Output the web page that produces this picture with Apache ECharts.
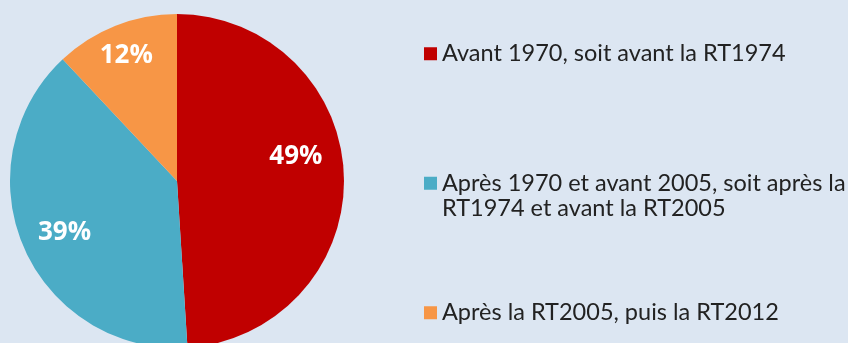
<!DOCTYPE html>
<html>
<head>
<meta charset="utf-8">
<script src="https://cdn.jsdelivr.net/npm/echarts@6/dist/echarts.min.js"></script>
<style>
  html, body { margin: 0; padding: 0; background: #dce6f2; }
  #chart { width: 848px; height: 343px; }
</style>
</head>
<body>
<div id="chart"></div>
<script>
// Construction periods of the housing stock (share of dwellings, %)
const categories = [
  'Avant 1970, soit avant la RT1974',
  'Après 1970 et avant 2005, soit après la\nRT1974 et avant la RT2005',
  'Après la RT2005, puis la RT2012'
];
const shares = [49, 39, 12];

// Presentation
const colors = ['#c00000', '#4bacc6', '#f79646'];
const pieCenter = [177, 181];
const pieRadius = 167;
const labelRadiusRatio = 0.76;        // value labels sit at ~3/4 of the radius
const labelNudge = [[-8, -20], [4, 1], [-4, -7]];

// mid angle of every slice, clockwise from 12 o'clock
const total = shares.reduce((a, b) => a + b, 0);
const midAngles = [];
let acc = 0;
shares.forEach(v => {
  midAngles.push((acc + v / 2) / total * 2 * Math.PI);
  acc += v;
});

const pieData = categories.map((name, i) => ({
  name: name,
  value: shares[i],
  itemStyle: { color: colors[i] }
}));

// white percentage labels inside the slices
const valueLabels = shares.map((v, i) => {
  const r = pieRadius * labelRadiusRatio;
  return {
    type: 'text',
    x: pieCenter[0] + Math.sin(midAngles[i]) * r + labelNudge[i][0],
    y: pieCenter[1] - Math.cos(midAngles[i]) * r + labelNudge[i][1],
    silent: true,
    z: 10,
    style: {
      text: v + '%',
      fill: '#ffffff',
      font: 'bold 26px "Open Sans"',
      align: 'center',
      verticalAlign: 'middle'
    }
  };
});

const chart = echarts.init(document.getElementById('chart'), null, { renderer: 'canvas' });
chart.setOption({
  backgroundColor: '#dce6f2',
  animation: false,
  legend: {
    orient: 'vertical',
    left: 424,
    top: 41,
    padding: 0,
    itemWidth: 13,
    itemHeight: 13,
    itemGap: 78.5,
    icon: 'rect',
    selectedMode: false,
    data: categories,
    // multi-line entries keep their square next to the first line
    formatter: name => name.indexOf('\n') >= 0 ? '\n' + name : name,
    textStyle: {
      fontFamily: 'Lato',
      fontSize: 23.5,
      lineHeight: 25.5,
      color: '#222222'
    }
  },
  graphic: valueLabels,
  series: [{
    type: 'pie',
    center: pieCenter,
    radius: [0, pieRadius],
    startAngle: 90,
    clockwise: true,
    itemStyle: { borderWidth: 0 },
    label: { show: false },
    labelLine: { show: false },
    emphasis: { disabled: true },
    data: pieData
  }]
});
</script>
</body>
</html>
